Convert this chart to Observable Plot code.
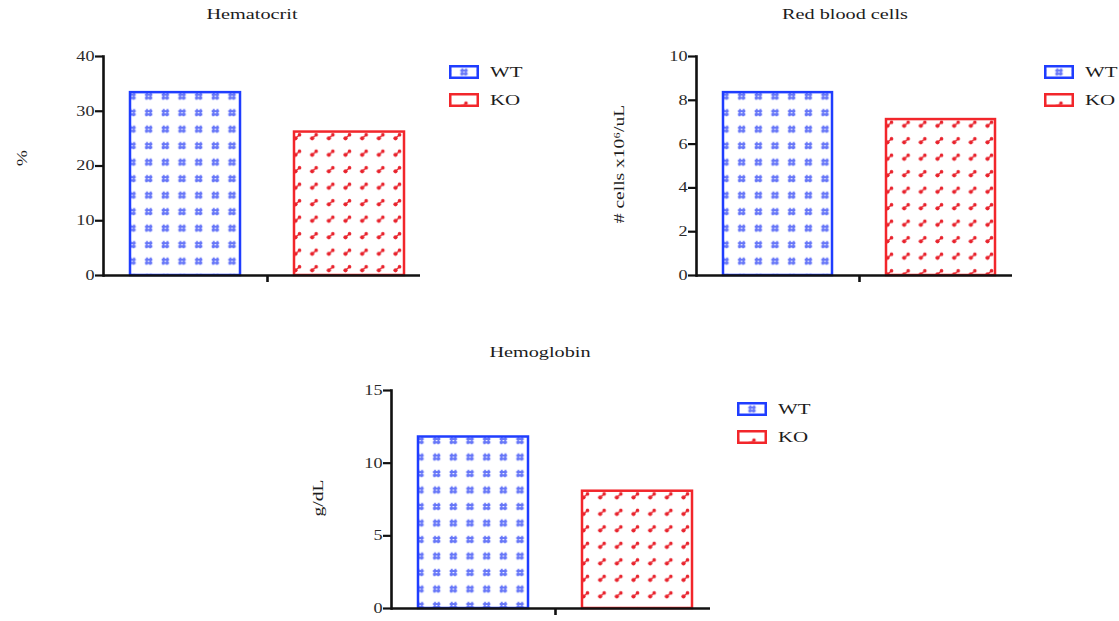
<!DOCTYPE html>
<html><head><meta charset="utf-8">
<script src="https://cdn.jsdelivr.net/npm/d3@7"></script>
<script src="https://cdn.jsdelivr.net/npm/@observablehq/plot@0.6"></script>
<style>
html,body{margin:0;padding:0;background:#fff;overflow:hidden}
#root{position:relative;width:1119px;height:621px;font-family:"Liberation Serif","Times New Roman",serif;color:#222}
.plotbox{position:absolute}
.title{position:absolute;font-size:15px;line-height:17px;transform:translate(-50%,0) scaleX(1.35);white-space:nowrap;color:#1c1c1c}
.ylab{position:absolute;font-size:15px;line-height:17px;white-space:nowrap;transform:translate(-50%,-50%) rotate(-90deg) scaleX(1.3);color:#1c1c1c}
.leg{position:absolute;font-size:15.5px;line-height:14px;color:#1c1c1c}
.legrow{display:flex;align-items:center;height:14px;margin-bottom:14px}
.legrow svg{margin-right:11px}
.legrow span{display:inline-block;transform:scaleX(1.35);transform-origin:left center}
</style></head><body><div id="root"></div>
<script>
// ---- data ----
const groups = ["WT", "KO"];
const hematocrit = [33.4, 26.2];
const redBloodCells = [8.35, 7.12];
const hemoglobin = [11.8, 8.07];
const hematocritTicks = [0, 10, 20, 30, 40];
const rbcTicks = [0, 2, 4, 6, 8, 10];
const hemoglobinTicks = [0, 5, 10, 15];
const titles = ["Hematocrit", "Red blood cells", "Hemoglobin"];
const yLabels = ["%", "# cells x10\u2076/uL", "g/dL"];

// ---- styles ----
const strokeColors = {WT: "#1f3dff", KO: "#f2262b"};
const glyphColors = {WT: "#6676f8", KO: "#e8222c"};
const TW = 16.67, TH = 16.5;
const FONT = "'Liberation Serif', 'Times New Roman', serif";

const panels = [
  {id: "p1", values: hematocrit, ticks: hematocritTicks, title: titles[0], ylab: yLabels[0],
   left: 0, top: 40, width: 440, height: 260, mL: 103, mR: 9, mT: 16, mB: 25,
   insL: 27, insR: 27, axisInsR: 11, titleX: 252, titleY: 6, ylabX: 22, ylabY: 158, legX: 449, legY: 65},
  {id: "p2", values: redBloodCells, ticks: rbcTicks, title: titles[1], ylab: yLabels[1],
   left: 600, top: 40, width: 430, height: 260, mL: 96, mR: 8, mT: 16, mB: 25,
   insL: 27, insR: 26, axisInsR: 10, titleX: 845, titleY: 6, ylabX: 619, ylabY: 164, legX: 1044, legY: 65},
  {id: "p3", values: hemoglobin, ticks: hemoglobinTicks, title: titles[2], ylab: yLabels[2],
   left: 300, top: 374, width: 430, height: 245, mL: 91, mR: 11, mT: 16, mB: 11,
   insL: 26, insR: 27, axisInsR: 9, titleX: 540, titleY: 344, ylabX: 318, ylabY: 498, legX: 737, legY: 402}
];

function addGlyph(pat, g, cx, cy) {
  if (g === "WT") {
    const d = `M${cx-1.6},${cy-3.6} L${cx-2.1},${cy+3.6} M${cx+2.1},${cy-3.6} L${cx+1.6},${cy+3.6} M${cx-3.7},${cy-1.5} L${cx+3.7},${cy-1.5} M${cx-3.7},${cy+1.8} L${cx+3.7},${cy+1.8}`;
    pat.append("path").attr("d", d).attr("stroke", glyphColors.WT).attr("stroke-width", 2).attr("fill", "none");
  } else {
    pat.append("line").attr("x1", cx-2).attr("y1", cy+1.8).attr("x2", cx+2).attr("y2", cy-1.8)
      .attr("stroke", glyphColors.KO).attr("stroke-width", 1.3);
    pat.append("circle").attr("cx", cx-2).attr("cy", cy+1.8).attr("r", 2.1).attr("fill", glyphColors.KO);
    pat.append("circle").attr("cx", cx+2).attr("cy", cy-1.8).attr("r", 1.8).attr("fill", glyphColors.KO);
  }
}

function makePattern(defs, id, g, ox, oy) {
  const pat = defs.append("pattern").attr("id", id).attr("patternUnits", "userSpaceOnUse")
    .attr("width", TW).attr("height", TH).attr("x", ox - TW/2).attr("y", oy - TH/2);
  addGlyph(pat, g, TW/2, TH/2);
}

const root = d3.select("#root");

for (const cfg of panels) {
  const data = groups.map((g, i) => ({group: g, value: cfg.values[i]}));
  const plot = Plot.plot({
    width: cfg.width, height: cfg.height,
    marginLeft: cfg.mL, marginRight: cfg.mR, marginTop: cfg.mT, marginBottom: cfg.mB,
    style: {fontFamily: FONT, fontSize: "14px", color: "#111", background: "transparent", overflow: "visible"},
    x: {domain: groups, paddingInner: 0.33, paddingOuter: 0, insetLeft: cfg.insL, insetRight: cfg.insR, axis: null},
    y: {domain: [0, d3.max(cfg.ticks)], axis: null},
    marks: [
      ...groups.map(g => Plot.barY(data.filter(d => d.group === g), {
        x: "group", y: "value", fill: `url(#${cfg.id}-${g})`, stroke: strokeColors[g], strokeWidth: 2.5
      })),
      Plot.axisY({ticks: cfg.ticks, tickSize: 8, tickPadding: 1, label: null, fontSize: 14, fontFamily: FONT, strokeWidth: 2.2}),
      Plot.frame({anchor: "left", stroke: "#111", strokeWidth: 2.6}),
      Plot.ruleY([0], {stroke: "#111", strokeWidth: 2.6, insetRight: cfg.axisInsR}),
      Plot.ruleX([0], {x: null, y1: 0, insetBottom: -7, stroke: "#111", strokeWidth: 2.6})
    ]
  });
  // widen tick labels horizontally like the reference
  d3.select(plot).selectAll("[aria-label='y-axis tick label'] text").each(function() {
    const t = d3.select(this);
    const tr = t.attr("transform");
    if (tr) t.attr("transform", tr + " scale(1.3,1)");
    t.attr("fill", "#2a2a2a");
  });
  const xs = plot.scale("x"), ys = plot.scale("y");
  const defs = d3.select(plot).insert("defs", ":first-child");
  data.forEach(d => {
    const x0 = xs.apply(d.group), y0 = ys.apply(d.value);
    if (d.group === "WT") makePattern(defs, `${cfg.id}-WT`, "WT", x0 + 2, y0 + 4);
    else makePattern(defs, `${cfg.id}-KO`, "KO", x0 + 3.5, y0 + 5);
  });
  const box = root.append("div").attr("class", "plotbox")
    .style("left", cfg.left + "px").style("top", cfg.top + "px");
  box.node().appendChild(plot);

  root.append("div").attr("class", "title").style("left", cfg.titleX + "px").style("top", cfg.titleY + "px").text(cfg.title);
  root.append("div").attr("class", "ylab").style("left", cfg.ylabX + "px").style("top", cfg.ylabY + "px").text(cfg.ylab);

  const leg = root.append("div").attr("class", "leg").style("left", cfg.legX + "px").style("top", cfg.legY + "px");
  groups.forEach(g => {
    const row = leg.append("div").attr("class", "legrow");
    const sw = row.append("svg").attr("width", 30).attr("height", 14);
    const sdefs = sw.append("defs");
    const pid = `leg-${cfg.id}-${g}`;
    if (g === "WT") makePattern(sdefs, pid, g, 15, 7);
    else makePattern(sdefs, pid, g, 15, 12);
    sw.append("rect").attr("x", 1.25).attr("y", 1.25).attr("width", 27.5).attr("height", 11.5)
      .attr("fill", `url(#${pid})`).attr("stroke", strokeColors[g]).attr("stroke-width", 2.5);
    row.append("span").text(g);
  });
}
</script></body></html>
